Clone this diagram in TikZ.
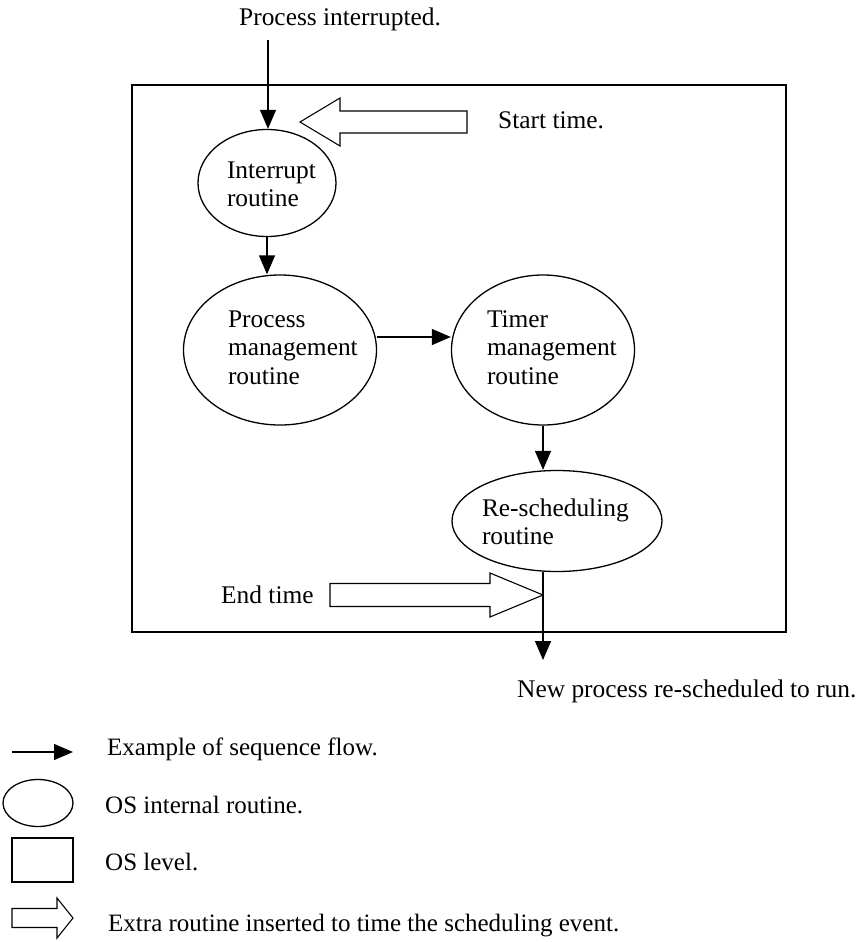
\documentclass[tikz,border=0pt]{standalone}
\usepackage{fontspec}
\setmainfont{Liberation Serif}
\usetikzlibrary{arrows.meta,shapes.geometric}
% left-aligned lines set at a given offset (x, y) from the node centre
\newcommand\routinelines[3]{\makebox[0pt][l]{\hspace*{#1}\raisebox{#2}[\height][\depth]{\begin{tabular}{@{}l@{}}#3\end{tabular}}}}
\begin{document}
\begin{tikzpicture}[x=1pt,y=1pt,
  every node/.style={font=\fontsize{25.4}{28.5}\selectfont},
  routine/.style={draw, ellipse, line width=1.3pt, inner sep=0pt},
  flow/.style={line width=1.3pt, -{Triangle[length=19pt,width=16pt]}},
  hollow/.style={draw, line width=1.1pt, fill=white, line join=miter},
  lbl/.style={anchor=base west, inner sep=0pt},
  legendtext/.style={lbl, font=\fontsize{25}{28}\selectfont},
]
\useasboundingbox (0,0) rectangle (859,-942);

% OS level frame
\node[draw, line width=1.8pt, minimum width=654, minimum height=547, inner sep=0pt] (oslevel) at (459,-358.5) {};

% routines
\node[routine, minimum width=138, minimum height=107] (intr) at (267,-183) {\routinelines{-40pt}{-4pt}{Interrupt\\routine}};
\node[routine, minimum width=193, minimum height=150] (pm) at (280,-350) {\routinelines{-52pt}{0pt}{Process\\management\\routine}};
\node[routine, minimum width=183, minimum height=150] (tm) at (543,-350) {\routinelines{-56pt}{0pt}{Timer\\management\\routine}};
\node[routine, minimum width=210, minimum height=101] (rs) at (557,-521) {\routinelines{-75pt}{-4pt}{Re-scheduling\\routine}};

% entry and exit
\node[lbl] (pint) at (239,-26) {Process interrupted.};
\coordinate (pstart) at (268,-40);
\draw[flow] (pstart) -- (pstart |- intr.north);

\coordinate (nend) at (543,-660);
\node[lbl] (newp) at (517,-697) {New process re-scheduled to run.};

% sequence flow
\draw[flow] (intr.south) -- (intr.south |- pm.north);
\draw[flow] ([yshift=13pt]pm.east) -- ([yshift=13pt]tm.west);
\draw[flow] (tm.south) -- (tm.south |- rs.north);
\draw[flow] (rs.south -| nend) -- (nend);

% timing hooks
\coordinate (stip) at (300,-122);
\draw[hollow] (stip) -- ++(40,24) -- ++(0,-13) -- ++(127,0) -- ++(0,-22) -- ++(-127,0) -- ++(0,-13) -- cycle;
\node[lbl] (stime) at (498,-128) {Start time.};

\coordinate (etip) at (543,-595);
\draw[hollow] (etip) -- ++(-53,22) -- ++(0,-10.5) -- ++(-160,0) -- ++(0,-23) -- ++(160,0) -- ++(0,-10.5) -- cycle;
\node[lbl] (etime) at (221,-603) {End time};

% legend
\coordinate (la) at (12,-752);
\coordinate (lb) at (73,-752);
\draw[flow] (la) -- (lb);
\node[legendtext] (l1) at (107,-755) {Example of sequence flow.};

\node[draw, ellipse, line width=1.3pt, minimum width=70, minimum height=47, inner sep=0pt] (lell) at (38,-803) {};
\node[legendtext] (l2) at (105,-813) {OS internal routine.};

\node[draw, line width=1.3pt, minimum width=61, minimum height=44, inner sep=0pt] (lbox) at (42.5,-860) {};
\node[legendtext] (l3) at (105,-870) {OS level.};

\coordinate (ltip) at (73,-918);
\draw[hollow] (ltip) -- ++(-16,20) -- ++(0,-10.5) -- ++(-45,0) -- ++(0,-19) -- ++(45,0) -- ++(0,-10.5) -- cycle;
\node[legendtext] (l4) at (108,-931) {Extra routine inserted to time the scheduling event.};
\end{tikzpicture}
\end{document}
